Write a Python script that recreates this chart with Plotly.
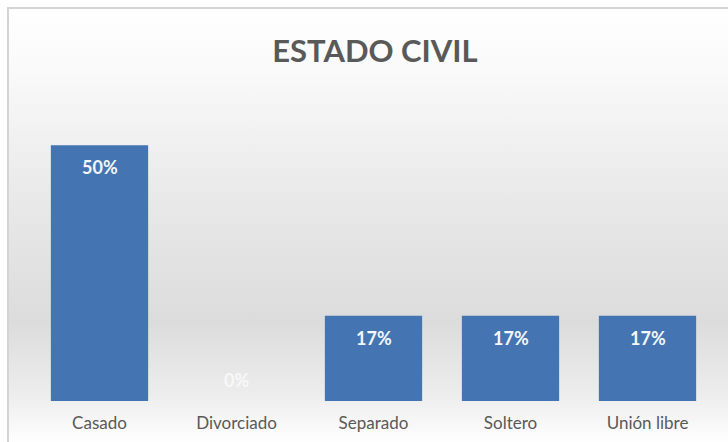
import base64
import plotly.graph_objects as go

categories = ["Casado", "Divorciado", "Separado", "Soltero", "Unión libre"]
shares = [0.5, 0.0, 1 / 6, 1 / 6, 1 / 6]
title_text = "ESTADO CIVIL"

W, H = 728, 442
L, R, T, B = 31, 12, 94, 41
FONT = "Lato, Open Sans, sans-serif"

# soft vertical gradient behind the chart, like the Office style
svg = """<svg xmlns='http://www.w3.org/2000/svg' width='100' height='100' preserveAspectRatio='none'>
<defs><linearGradient id='g' x1='0' y1='0' x2='0' y2='1'>
<stop offset='0' stop-color='#ffffff'/>
<stop offset='0.15' stop-color='#f9f9f9'/>
<stop offset='0.45' stop-color='#e8e8e8'/>
<stop offset='0.72' stop-color='#dcdcdc'/>
<stop offset='0.88' stop-color='#ececec'/>
<stop offset='1' stop-color='#ffffff'/>
</linearGradient></defs>
<rect width='100' height='100' fill='url(#g)'/></svg>"""
bg_src = "data:image/svg+xml;base64," + base64.b64encode(svg.encode()).decode()

pw, ph = W - L - R, H - T - B
def px_x(p):
    return (p - L) / pw
def px_y(p):
    return (H - B - p) / ph

fig = go.Figure(go.Bar(
    x=categories,
    y=shares,
    marker=dict(color="#4574b2", line=dict(width=0)),
    width=0.71,
    hoverinfo="skip",
))

for cat, v in zip(categories, shares):
    fig.add_annotation(
        x=cat, y=v, text=f"<b>{v:.0%}</b>", showarrow=False,
        yshift=-22 if v > 0 else 21,
        font=dict(family=FONT, size=18, color="#f4f7fb" if v > 0 else "rgba(255,255,255,0.7)"),
    )

fig.add_layout_image(
    source=bg_src, xref="paper", yref="paper",
    x=px_x(8), y=px_y(8), sizex=px_x(W + 2) - px_x(8), sizey=px_y(8) - px_y(H + 2),
    sizing="stretch", xanchor="left", yanchor="top", layer="below",
)
fig.add_shape(
    type="rect", xref="paper", yref="paper",
    x0=px_x(8), x1=px_x(W + 5), y0=px_y(H + 5), y1=px_y(8),
    line=dict(color="#d4d4d4", width=2), fillcolor="rgba(0,0,0,0)", layer="above",
)

fig.update_layout(
    width=W, height=H,
    margin=dict(l=L, r=R, t=T, b=B),
    paper_bgcolor="white",
    plot_bgcolor="rgba(0,0,0,0)",
    showlegend=False,
    bargap=0.29,
    title=dict(
        text=f"<b>{title_text}</b>", x=0.515, xanchor="center", y=0.885, yanchor="middle",
        font=dict(family=FONT, size=31, color="#595959"),
    ),
    xaxis=dict(
        showline=False, ticks="", showgrid=False, ticklabelstandoff=10, automargin=False,
        tickfont=dict(family=FONT, size=17, color="#595959"),
    ),
    yaxis=dict(range=[0, 0.6], visible=False, showgrid=False, zeroline=False, automargin=False),
)

fig.write_html("out.html", config={"displayModeBar": False},
               post_script="document.body.style.margin='0';")
